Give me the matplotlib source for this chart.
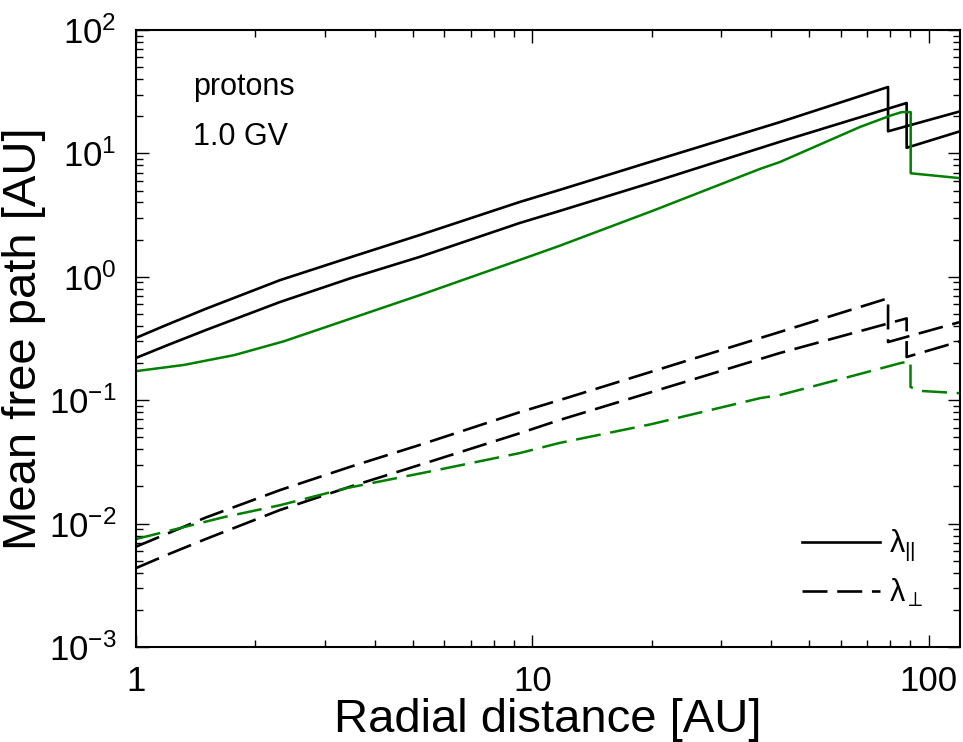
import numpy as np
import matplotlib
matplotlib.use("Agg")
import matplotlib.pyplot as plt
from matplotlib.ticker import LogLocator, NullFormatter, FixedLocator, FixedFormatter

plt.rcParams['font.family'] = ['Liberation Sans', 'DejaVu Sans']
plt.rcParams['mathtext.fontset'] = 'custom'
plt.rcParams['mathtext.rm'] = 'Liberation Sans'
plt.rcParams['mathtext.it'] = 'Liberation Sans'
plt.rcParams['lines.scale_dashes'] = False

# mean free paths [AU]; repeated r marks the jump
r_par_a = [1, 1.2, 1.5, 2.31, 3.5, 5.2, 9.3, 11.7, 20, 42.1, 79, 79, 120]
par_a = [0.32, 0.41, 0.55, 0.94, 1.45, 2.18, 4.04, 5.05, 8.6, 17.9, 34.5, 15.1, 21.9]

r_par_b = [1, 1.2, 1.5, 2.31, 3.5, 5.2, 9.3, 11.7, 20, 42.1, 88, 88, 120]
par_b = [0.22, 0.279, 0.37, 0.625, 0.98, 1.45, 2.73, 3.41, 5.8, 12.4, 25.6, 11.1, 15.1]

r_par_c = [1, 1.32, 1.77, 2.36, 5.2, 9.3, 11.7, 20, 37.6, 42.1, 67.2, 80.7, 85.5, 90.1, 90.1, 120]
par_c = [0.172, 0.193, 0.232, 0.30, 0.71, 1.37, 1.78, 3.4, 7.5, 8.5, 16.4, 20.4, 21.6, 21.6, 6.9, 6.3]

r_perp_a = [1, 1.2, 1.5, 2.31, 3.5, 5.2, 9.3, 11.7, 42.1, 79, 79, 120]
perp_a = [0.0065, 0.0083, 0.0112, 0.0187, 0.0291, 0.0434, 0.080, 0.100, 0.357, 0.67, 0.296, 0.43]

r_perp_b = [1, 1.2, 1.5, 2.31, 3.5, 5.2, 9.3, 11.7, 42.1, 88, 88, 120]
perp_b = [0.00436, 0.0056, 0.0075, 0.0129, 0.0201, 0.0299, 0.054, 0.069, 0.241, 0.46, 0.224, 0.30]

r_perp_c = [1, 1.67, 2.31, 3.4, 5.6, 9.3, 11.7, 20, 37.6, 42.1, 67, 85, 90, 90, 95, 120]
perp_c = [0.0075, 0.0113, 0.0141, 0.0194, 0.0267, 0.0373, 0.045, 0.064, 0.104, 0.110, 0.163, 0.20, 0.208, 0.128, 0.119, 0.114]

x_ticks = [1, 10, 100]
x_tick_labels = ['1', '10', '100']

green = '#008000'
dash = (0, (18, 7))

fig = plt.figure(figsize=(9.63, 7.42), dpi=100)
ax = fig.add_axes([0.1412, 0.128, 0.8557, 0.8316])

ax.plot(r_par_a, par_a, color='black', lw=1.9)
ax.plot(r_par_b, par_b, color='black', lw=1.9)
ax.plot(r_par_c, par_c, color=green, lw=1.8)
ax.plot(r_perp_a, perp_a, color='black', lw=1.9, linestyle=dash)
ax.plot(r_perp_b, perp_b, color='black', lw=1.9, linestyle=dash)
ax.plot(r_perp_c, perp_c, color=green, lw=1.8, linestyle=dash)

ax.set_xscale('log')
ax.set_yscale('log')
ax.set_xlim(1, 120)
ax.set_ylim(1e-3, 1e2)

ax.xaxis.set_major_locator(FixedLocator(x_ticks))
ax.xaxis.set_major_formatter(FixedFormatter(x_tick_labels))
ax.xaxis.set_minor_locator(LogLocator(base=10, subs=np.arange(2, 10)))
ax.xaxis.set_minor_formatter(NullFormatter())
ax.yaxis.set_major_locator(LogLocator(base=10, numticks=10))
ax.yaxis.set_minor_locator(LogLocator(base=10, subs=np.arange(2, 10), numticks=10))
ax.yaxis.set_minor_formatter(NullFormatter())

ax.tick_params(which='both', direction='in', top=True, right=True, width=1.0)
ax.tick_params(which='major', length=9, labelsize=25)
ax.tick_params(axis='x', which='major', pad=13)
ax.tick_params(axis='y', which='major', pad=14)
ax.tick_params(which='minor', length=5)
for sp in ax.spines.values():
    sp.set_linewidth(1.5)

ax.set_xlabel('Radial distance [AU]', fontsize=34, labelpad=0)
ax.set_ylabel('Mean free path [AU]', fontsize=34, labelpad=2)

ax.text(0.069, 0.908, 'protons', transform=ax.transAxes, fontsize=22, va='center', ha='left')
ax.text(0.069, 0.827, '1.0 GV', transform=ax.transAxes, fontsize=22, va='center', ha='left')

h1, = ax.plot([], [], color='black', lw=1.9)
h2, = ax.plot([], [], color='black', lw=1.9, linestyle=dash)
ax.legend([h1, h2], [r'$\lambda_{||}$', r'$\lambda_{\perp}$'], loc='center left',
          bbox_to_anchor=(0.808, 0.127), frameon=False, fontsize=22,
          handlelength=2.55, handletextpad=0.3, borderpad=0, borderaxespad=0,
          labelspacing=0.45)

fig.savefig('out.png', dpi=100)
